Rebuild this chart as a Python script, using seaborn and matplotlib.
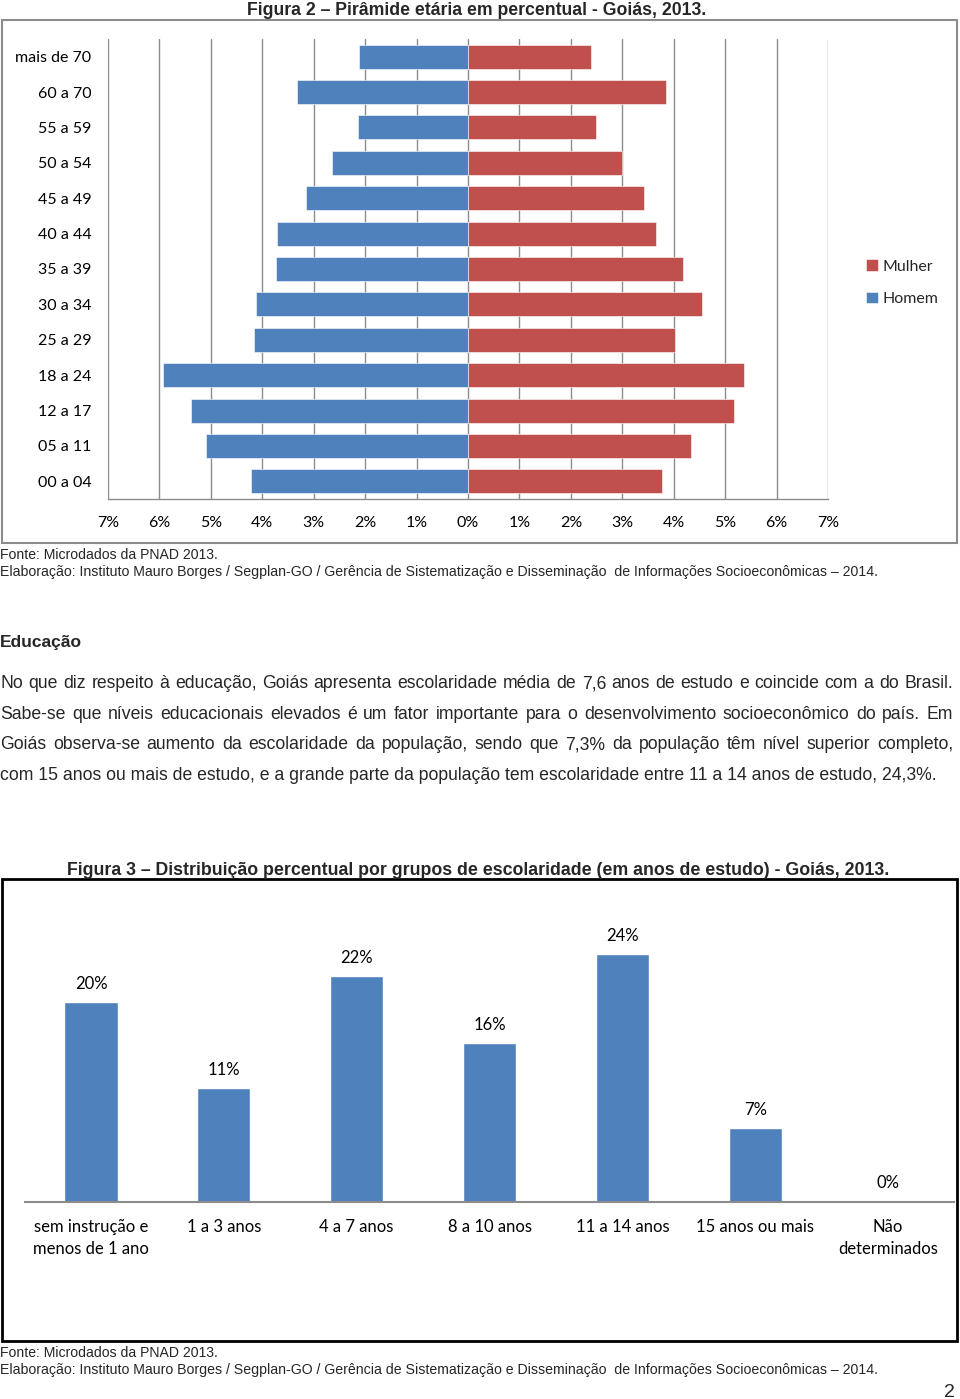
import numpy as np
import pandas as pd
import seaborn as sns
import matplotlib
matplotlib.use("Agg")
import matplotlib.pyplot as plt
from matplotlib.patches import Rectangle
from matplotlib import font_manager as fm

# ---------------- data ----------------
faixas = ["mais de 70", "60 a 70", "55 a 59", "50 a 54", "45 a 49", "40 a 44",
          "35 a 39", "30 a 34", "25 a 29", "18 a 24", "12 a 17", "05 a 11", "00 a 04"]
homem = [2.11, 3.32, 2.14, 2.65, 3.15, 3.71, 3.73, 4.12, 4.16, 5.93, 5.38, 5.10, 4.21]
mulher = [2.40, 3.85, 2.49, 3.00, 3.43, 3.65, 4.18, 4.55, 4.02, 5.36, 5.17, 4.33, 3.77]
pir_ticks = [-7, -6, -5, -4, -3, -2, -1, 0, 1, 2, 3, 4, 5, 6, 7]

grupos = ["sem instrução e\nmenos de 1 ano", "1 a 3 anos", "4 a 7 anos", "8 a 10 anos",
          "11 a 14 anos", "15 anos ou mais", "Não\ndeterminados"]
escolaridade = [19.6, 11.2, 22.2, 15.6, 24.3, 7.3, 0.1]

titulo2 = "Figura 2 – Pirâmide etária em percentual - Goiás, 2013."
titulo3 = "Figura 3 – Distribuição percentual por grupos de escolaridade (em anos de estudo) - Goiás, 2013."
fonte = "Fonte: Microdados da PNAD 2013."
elab = "Elaboração: Instituto Mauro Borges / Segplan-GO / Gerência de Sistematização e Disseminação  de Informações Socioeconômicas – 2014."
secao = "Educação"
paragrafo = [
    "No que diz respeito à educação, Goiás apresenta escolaridade média de 7,6 anos de estudo e coincide com a do Brasil.",
    "Sabe-se que níveis educacionais elevados é um fator importante para o desenvolvimento socioeconômico do país. Em",
    "Goiás observa-se aumento da escolaridade da população, sendo que 7,3% da população têm nível superior completo,",
    "com 15 anos ou mais de estudo, e a grande parte da população tem escolaridade entre 11 a 14 anos de estudo, 24,3%.",
]

# ---------------- style ----------------
sns.set_theme(style="white")
names = {f.name for f in fm.fontManager.ttflist}
NARROW = "Liberation Sans Narrow" if "Liberation Sans Narrow" in names else "Liberation Sans"
ARIAL = "Liberation Sans"
CAL = "Lato" if "Lato" in names else "DejaVu Sans"
plt.rcParams["font.family"] = [CAL, "DejaVu Sans"]

W, H = 960, 1399
fig = plt.figure(figsize=(9.6, 13.99), dpi=100)
fig.patch.set_facecolor("white")
renderer = fig.canvas.get_renderer()

def fx(px):
    return px / W

def fy(py):
    return 1 - py / H

def fit_text(x, yc, s, target_w, family, weight="normal", ha="left", size0=10, **kw):
    t = fig.text(fx(x), fy(yc), s, family=[family], weight=weight, fontsize=size0,
                 ha=ha, va="baseline", **kw)
    w = t.get_window_extent(renderer).width
    fs = size0 * target_w / w
    t.set_fontsize(fs)
    cap_px = fs * 100 / 72 * 0.72
    t.set_y(fy(yc + cap_px / 2))
    return t, fs

# ---------------- Figure 2 : pyramid ----------------
fig.add_artist(Rectangle((fx(2), fy(543)), fx(955), 523 / H, transform=fig.transFigure,
                         fill=False, edgecolor="#8c8c8c", linewidth=1.5))
fit_text(247, 9, titulo2, 459, NARROW, weight="bold")

ax = fig.add_axes([fx(108), fy(499), 720 / W, 460 / H])
df = pd.DataFrame({
    "faixa": faixas * 2,
    "sexo": ["Mulher"] * len(faixas) + ["Homem"] * len(faixas),
    "valor": mulher + [-h for h in homem],
})
sns.barplot(data=df, x="valor", y="faixa", hue="sexo", hue_order=["Mulher", "Homem"],
            order=faixas, palette={"Mulher": "#C0504D", "Homem": "#4F81BD"},
            saturation=1, dodge=False, width=0.68, orient="h", errorbar=None, ax=ax,
            edgecolor="white", linewidth=0.4)
handles, labels = ax.get_legend_handles_labels()
if ax.get_legend() is not None:
    ax.get_legend().remove()
ax.set_xlim(-7, 7)
ax.set_ylim(len(faixas) - 0.5, -0.5)
ax.set_xticks(pir_ticks)
ax.set_xticklabels([f"{abs(v)}%" for v in pir_ticks])
ax.set_xlabel("")
ax.set_ylabel("")
ax.set_axisbelow(True)
ax.grid(axis="x", color="#8c8c8c", linewidth=1.0)
ax.grid(axis="y", visible=False)
for side in ["top", "right", "left"]:
    ax.spines[side].set_visible(False)
ax.spines["bottom"].set_color("#8c8c8c")
ax.spines["bottom"].set_linewidth(1.0)
ax.tick_params(axis="x", length=0, pad=12, labelsize=11.5, colors="black")
ax.tick_params(axis="y", length=0, pad=12, labelsize=11.5, colors="black")
for lab in ax.get_xticklabels() + ax.get_yticklabels():
    lab.set_family(CAL)
ax.patch.set_alpha(0)

fig.legend(handles, labels, loc="upper left", bbox_to_anchor=(fx(852), fy(245)),
           frameon=False, handlelength=0.7, handleheight=0.7, handletextpad=0.3,
           labelspacing=1.15, prop={"family": CAL, "size": 11.5})

fit_text(0, 554, fonte, 218, NARROW)
fit_text(0, 571, elab, 877, NARROW)

# ---------------- Text section ----------------
fit_text(0, 641, secao, 82, ARIAL, weight="bold")

probe = fig.text(0, 0, paragrafo[-1], family=[ARIAL], fontsize=12)
pw = probe.get_window_extent(renderer).width
probe.remove()
body_fs = 12 * 941 / pw
cap_body = body_fs * 100 / 72 * 0.72
line_y = [682, 713, 743, 774]
for i, (line, yc) in enumerate(zip(paragrafo, line_y)):
    yb = fy(yc + cap_body / 2)
    if i == len(paragrafo) - 1:
        fig.text(0, yb, line, family=[ARIAL], fontsize=body_fs, va="baseline")
        continue
    words = line.split(" ")
    objs = [fig.text(0, yb, w_, family=[ARIAL], fontsize=body_fs, va="baseline") for w_ in words]
    widths = [o.get_window_extent(renderer).width for o in objs]
    gap = (953 - sum(widths)) / (len(words) - 1)
    xpos = 0.0
    for o, wd in zip(objs, widths):
        o.set_x(fx(xpos))
        xpos += wd + gap

# ---------------- Figure 3 : schooling ----------------
fig.add_artist(Rectangle((fx(2), fy(1341)), fx(955), 462 / H, transform=fig.transFigure,
                         fill=False, edgecolor="black", linewidth=2.0))
fit_text(67, 869, titulo3, 819, NARROW, weight="bold")

ax2 = fig.add_axes([fx(24.6), fy(1202), 929.8 / W, 306 / H])
sns.barplot(x=grupos, y=escolaridade, color="#4F81BD", saturation=1, width=0.4,
            errorbar=None, ax=ax2)
ax2.set_xlim(-0.5, len(grupos) - 0.5)
ax2.set_ylim(0, 30)
ax2.set_yticks([])
ax2.set_xlabel("")
ax2.set_ylabel("")
for side in ["top", "right", "left"]:
    ax2.spines[side].set_visible(False)
ax2.spines["bottom"].set_color("#8c8c8c")
ax2.spines["bottom"].set_linewidth(1.5)
ax2.tick_params(axis="x", length=0, pad=12, labelsize=12, colors="black")
for lab in ax2.get_xticklabels():
    lab.set_family(CAL)
    lab.set_linespacing(1.45)
    lab.set_va("top")
ax2.bar_label(ax2.containers[0], labels=[f"{round(v)}%" for v in escolaridade],
              padding=7, fontsize=12, family=CAL, color="black")
ax2.patch.set_alpha(0)

fit_text(0, 1352, fonte, 218, NARROW)
fit_text(0, 1369, elab, 877, NARROW)
fig.text(fx(955), fy(1397), "2", family=[ARIAL], fontsize=14, ha="right", va="baseline")

fig.savefig("out.png", dpi=100, facecolor="white")
